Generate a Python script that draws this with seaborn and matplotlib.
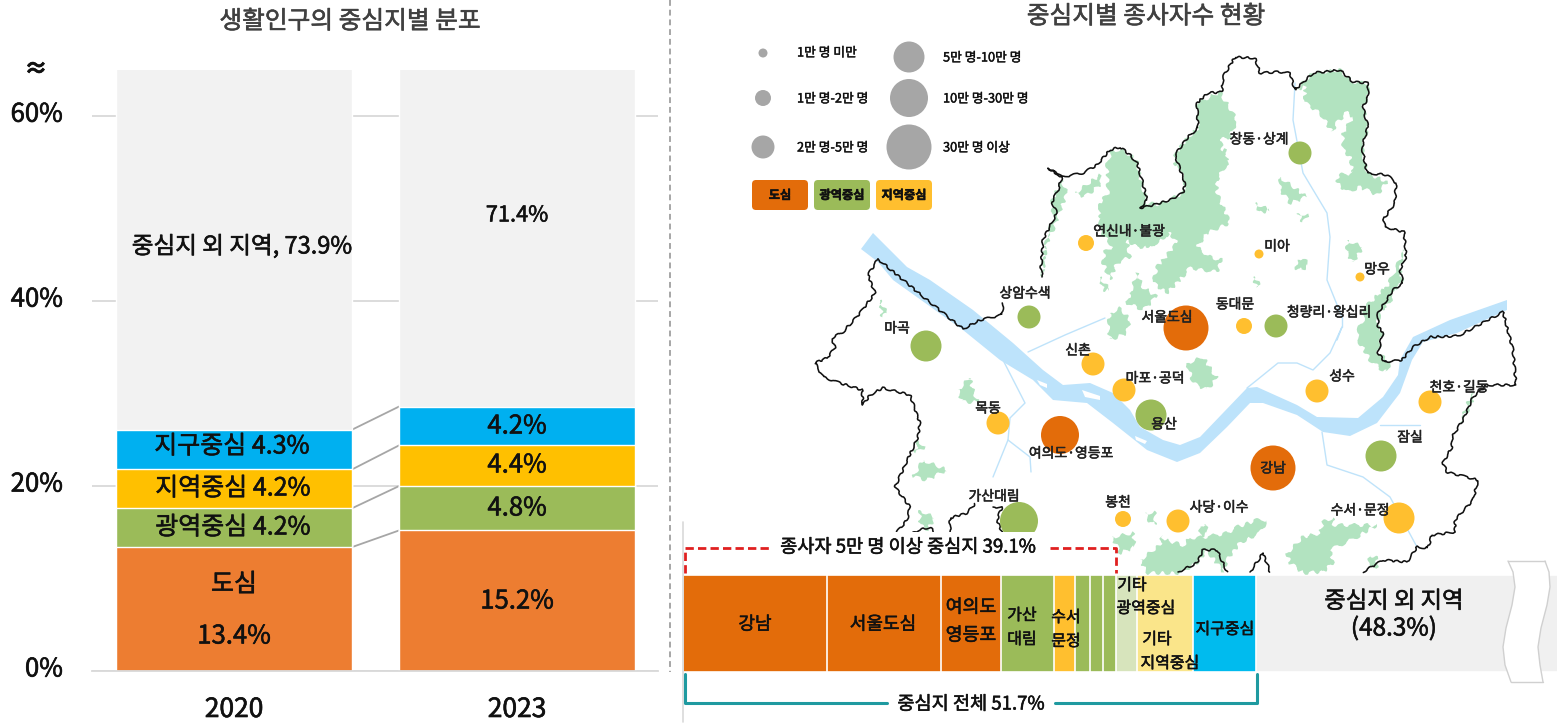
import numpy as np
import pandas as pd
import seaborn as sns
import matplotlib
matplotlib.use("Agg")
import matplotlib.pyplot as plt
import matplotlib.patheffects as pe
from matplotlib.patches import Rectangle, FancyBboxPatch
from matplotlib.transforms import ScaledTranslation

# left chart values
years = ['2020', '2023']
dosim = [13.4, 15.2]
gwangyeok = [4.2, 4.8]
jiyeok = [4.2, 4.4]
jigu = [4.3, 4.2]
outside = [73.9, 71.4]
y_ticks = [0, 20, 40, 60]

# bottom strip values (share of workers, %)
strip_names = ['강남', '서울도심', '여의도영등포', '가산대림', '수서문정', '광역1', '광역2', '광역3',
               '기타광역중심', '기타지역중심', '지구중심', '중심지 외 지역']
strip_vals = [13.0, 10.3, 5.4, 4.8, 1.9, 1.3, 1.2, 1.2, 1.9, 5.0, 5.7, 48.3]
strip_cols = ['#E36C0A', '#E36C0A', '#E36C0A', '#9BBB59', '#FFBF2F', '#9BBB59', '#9BBB59', '#9BBB59',
              '#D7E4BC', '#FAE58A', '#00BBEE', '#F0F0F0']

# centres on the map
bub_names = ['창동·상계', '연신내·불광', '미아', '망우', '상암수색', '서울도심', '동대문', '청량리·왕십리',
             '마곡', '신촌', '마포·공덕', '성수', '천호·길동', '목동', '용산', '여의도·영등포',
             '잠실', '강남', '가산대림', '봉천', '사당·이수', '수서·문정']
bub_x = [1300, 1086, 1259, 1360, 1029, 1186, 1244, 1276, 926, 1093, 1124, 1317, 1430, 998, 1151, 1060,
         1381, 1273, 1019, 1123, 1178, 1399]
bub_y = [153, 243, 254, 277, 317, 328, 326, 326, 346, 364, 390, 391, 402, 423, 415, 435,
         456, 468, 521, 519, 521, 518]
bub_kind = ['광역', '지역', '지역', '지역', '광역', '도심', '지역', '광역',
            '광역', '지역', '지역', '지역', '지역', '지역', '광역', '도심',
            '광역', '도심', '광역', '지역', '지역', '지역']
bub_class = [2, 1, 0, 0, 2, 5, 1, 2, 3, 2, 2, 2, 2, 2, 3, 4, 3, 5, 4, 1, 2, 3]

legend_labels = ['1만 명 미만', '1만 명-2만 명', '2만 명-5만 명', '5만 명-10만 명', '10만 명-30만 명', '30만 명 이상']
legend_x = [763, 763, 763, 909, 909, 909]
legend_y = [53, 98, 147, 57, 98, 147]

# map outlines, in picture pixels
border_river = [(878, 259), (927, 300), (963, 329), (980, 320), (1002, 315), (1003, 303)]
border_main = [(1042, 277), (1041, 267), (1043, 240), (1050, 226), (1057, 213), (1052, 202), (1058, 190), (1062, 177),
               (1048, 168), (1062, 177), (1083, 173), (1097, 165), (1110, 150), (1120, 147), (1130, 155), (1137, 163),
               (1142, 180), (1147, 200), (1140, 208), (1153, 205), (1170, 200), (1183, 193), (1185, 183), (1175, 155),
               (1188, 137), (1198, 128), (1197, 103), (1208, 93), (1222, 92), (1223, 77), (1235, 57), (1255, 58),
               (1260, 73), (1277, 72), (1290, 73), (1295, 90), (1313, 73), (1340, 70), (1353, 82), (1368, 83),
               (1368, 97), (1363, 107), (1368, 127), (1362, 147), (1367, 173), (1387, 175), (1396, 183), (1395, 203),
               (1383, 220), (1385, 227), (1404, 232), (1406, 257), (1400, 270), (1403, 283), (1393, 290), (1378, 313),
               (1378, 327), (1383, 332), (1378, 353), (1385, 362), (1402, 360), (1413, 347), (1430, 337), (1458, 336),
               (1503, 312), (1507, 327), (1513, 350), (1516, 385), (1487, 385), (1473, 397), (1463, 420), (1452, 437),
               (1452, 447), (1443, 463), (1447, 472), (1478, 480), (1473, 500), (1455, 520), (1455, 532), (1432, 535),
               (1428, 548), (1417, 547), (1407, 562), (1383, 560), (1363, 572)]
border_west = [(878, 259), (868, 275), (875, 293), (860, 313), (843, 332), (832, 338), (835, 348), (827, 358), (815, 363),
               (823, 377), (837, 382), (862, 390), (863, 405), (870, 395), (883, 388), (910, 395), (920, 423), (918, 437),
               (895, 487), (910, 507), (907, 520), (897, 532)]
border_south = [[(913, 532), (930, 527), (934, 532)],
                [(950, 532), (950, 518), (967, 513), (975, 504)],
                [(993, 507), (1002, 507), (997, 520), (1002, 532)],
                [(1178, 572), (1197, 563), (1203, 550), (1217, 550), (1227, 572)],
                [(1250, 572), (1257, 562), (1263, 553), (1270, 572)]]
river = [(873, 233), (893, 253), (907, 267), (930, 280), (973, 310), (1013, 343), (1043, 370), (1063, 385), (1090, 383),
         (1113, 393), (1130, 410), (1140, 427), (1163, 440), (1180, 445), (1200, 437), (1223, 413), (1247, 388), (1257, 387),
         (1297, 405), (1317, 417), (1358, 418), (1383, 397), (1398, 375), (1400, 360), (1413, 337), (1450, 320), (1507, 300),
         (1507, 310), (1457, 333), (1423, 342), (1412, 360), (1400, 393), (1377, 423), (1350, 436), (1323, 432), (1297, 415),
         (1263, 403), (1250, 403), (1227, 427), (1200, 453), (1177, 462), (1147, 450), (1113, 423), (1087, 403), (1053, 400),
         (1033, 380), (1000, 360), (963, 330), (893, 280), (878, 262), (861, 249)]
islands = [[(1037, 380), (1047, 384), (1047, 388), (1040, 385)],
           [(1082, 390), (1100, 396), (1100, 400), (1085, 397)],
           [(1135, 436), (1147, 441), (1145, 444), (1136, 440)]]
streams = [[(1247, 388), (1257, 380), (1278, 363), (1297, 363), (1313, 370), (1330, 353), (1342, 327), (1337, 340)],
           [(1342, 317), (1327, 280), (1330, 237), (1327, 213), (1303, 173), (1293, 120), (1295, 83)],
           [(1342, 317), (1342, 327)],
           [(1003, 360), (1025, 403), (1010, 418), (1008, 440), (993, 477)],
           [(1008, 440), (1030, 457), (1031, 472)],
           [(1322, 432), (1327, 465), (1363, 477), (1390, 497), (1417, 547)],
           [(1380, 425), (1420, 425)],
           [(1028, 352), (1065, 335), (1105, 318)]]
greens = [[(1112, 150), (1122, 150), (1137, 160), (1140, 177), (1147, 202), (1140, 209), (1163, 203), (1183, 193), (1185, 183),
           (1175, 153), (1227, 150), (1227, 163), (1217, 180), (1217, 193), (1230, 223), (1207, 233), (1197, 247), (1210, 257),
           (1222, 260), (1217, 272), (1190, 268), (1177, 283), (1167, 293), (1153, 283), (1157, 267), (1177, 243), (1170, 233),
           (1150, 247), (1137, 247), (1127, 240), (1130, 257), (1117, 263), (1110, 280), (1103, 263), (1105, 250), (1113, 247),
           (1100, 230), (1100, 203), (1108, 193), (1107, 163)],
          [(1100, 203), (1147, 203), (1172, 206), (1170, 233), (1150, 247), (1127, 240), (1113, 247), (1100, 230)],
          [(1198, 128), (1197, 103), (1220, 92), (1237, 120), (1230, 137), (1220, 140), (1227, 165), (1175, 165), (1175, 155), (1188, 137)],
          [(1062, 180), (1067, 193), (1053, 230), (1047, 243), (1042, 277), (1045, 247), (1053, 217), (1052, 200)],
          [(1075, 193), (1100, 175), (1102, 183), (1085, 197)],
          [(1130, 293), (1137, 273), (1143, 287), (1157, 297), (1143, 310), (1127, 303)],
          [(1110, 313), (1120, 308), (1130, 320), (1127, 333), (1110, 340), (1108, 325)],
          [(1100, 277), (1110, 290), (1103, 290)],
          [(1295, 90), (1313, 73), (1340, 70), (1353, 82), (1368, 83), (1368, 97), (1363, 107), (1368, 127), (1362, 147), (1367, 173),
           (1387, 182), (1377, 195), (1360, 187), (1347, 192), (1337, 183), (1338, 175), (1353, 173), (1350, 157), (1343, 150), (1343, 133),
           (1353, 117), (1347, 112), (1337, 123), (1332, 132), (1320, 113), (1305, 103), (1305, 87)],
          [(1140, 560), (1160, 545), (1162, 535), (1165, 540), (1183, 545), (1190, 538), (1205, 537), (1227, 533), (1237, 527), (1257, 520),
           (1267, 520), (1260, 533), (1240, 543), (1227, 560), (1223, 572), (1207, 550), (1197, 563), (1180, 573), (1147, 573)],
          [(1287, 553), (1303, 537), (1320, 533), (1323, 522), (1333, 517), (1333, 525), (1377, 525), (1357, 537), (1330, 550), (1333, 563),
           (1323, 572), (1303, 573), (1290, 563)],
          [(1367, 570), (1370, 555), (1377, 558), (1377, 567)],
          [(1112, 537), (1133, 533), (1135, 547), (1120, 553)],
          [(1145, 513), (1155, 512), (1155, 525), (1148, 520)],
          [(1200, 527), (1205, 523), (1208, 533), (1200, 537)],
          [(1395, 290), (1390, 303), (1378, 313), (1378, 327), (1383, 332), (1378, 353), (1390, 362), (1387, 372), (1382, 370), (1370, 360),
           (1358, 340), (1357, 332), (1363, 320), (1365, 307), (1383, 290)],
          [(1404, 250), (1400, 270), (1403, 283), (1393, 290), (1378, 320), (1365, 315), (1385, 290), (1393, 275)],
          [(1460, 423), (1470, 397), (1475, 393), (1470, 407)],
          [(958, 390), (970, 377), (972, 387), (978, 402), (962, 402)],
          [(923, 460), (947, 470), (927, 480), (913, 477)],
          [(918, 440), (925, 447), (915, 453)],
          [(920, 510), (935, 518), (927, 530), (920, 525)],
          [(880, 300), (887, 313), (882, 317)],
          [(1280, 177), (1307, 197), (1290, 203), (1280, 190)],
          [(1255, 203), (1270, 210), (1260, 213)],
          [(1298, 213), (1308, 215), (1303, 223)],
          [(1297, 260), (1303, 257), (1309, 265), (1302, 270), (1295, 268)],
          [(1347, 240), (1363, 247), (1353, 263), (1347, 253)],
          [(1253, 277), (1260, 280), (1257, 288)],
          [(1187, 363), (1203, 357), (1217, 378), (1207, 390), (1193, 383)]]

W, H = 1559, 728
sns.set_theme(style='white')
plt.rcParams['font.family'] = ['Noto Sans CJK KR', 'DejaVu Sans']
plt.rcParams['font.weight'] = 'medium'
fig = plt.figure(figsize=(W / 100, H / 100), dpi=100, facecolor='white')
thick = [pe.withStroke(linewidth=0.45, foreground='#111111')]

def px_axes(l, t, r, b, z):
    return fig.add_axes([l / W, 1 - b / H, (r - l) / W, (b - t) / H], zorder=z)

# map
mp = px_axes(0, 0, W, H, 0)
mp.set_xlim(0, W)
mp.set_ylim(H, 0)
mp.axis('off')
for g in greens:
    for patch in mp.fill(*zip(*g), color='#B2E3C0', lw=0, zorder=1):
        patch.set_sketch_params(scale=2, length=14, randomness=3)
for s in streams:
    mp.plot(*zip(*s), color='#BFE3FA', lw=1.0, zorder=1.5)
mp.fill(*zip(*river), color='#BDE3FB', lw=0, zorder=2)
for isl in islands:
    mp.fill(*zip(*isl), color='white', lw=0, zorder=2.1)
for seg in [border_river, border_main, border_west] + border_south:
    for line in mp.plot(*zip(*seg), color='#111111', lw=1.15, zorder=2.5):
        line.set_sketch_params(scale=1, length=12, randomness=3)

px_d = np.array([9, 16, 23, 31, 38, 45])
map_df = pd.DataFrame({'x': bub_x, 'y': bub_y, 'kind': bub_kind, 'cls': bub_class})
sns.scatterplot(data=map_df, x='x', y='y', hue='kind', palette={'도심': '#E36C0A', '광역': '#9BBB59', '지역': '#FFBF2F'},
                s=(px_d[map_df['cls']] * 0.72) ** 2, linewidth=0, legend=False, ax=mp, zorder=3)
sns.scatterplot(x=legend_x, y=legend_y, color='#A6A6A6', s=(px_d * 0.72) ** 2, linewidth=0, legend=False, ax=mp, zorder=3)
mp.set_xlim(0, W)
mp.set_ylim(H, 0)
mp.axis('off')
mp.add_patch(Rectangle((684, 532), 424, 43, color='white', lw=0, zorder=4))

# stacked bars, drawn tallest first
ax = px_axes(92, 70, 658, 671, 1)
ax.patch.set_alpha(0)
segments = [dosim, gwangyeok, jiyeok, jigu, outside]
seg_cols = ['#ED7D31', '#9BBB59', '#FFC000', '#00B0F0', '#F2F2F2']
cum = np.cumsum(segments, axis=0)
bar_w = 0.834
for top, c in zip(cum[::-1], seg_cols[::-1]):
    sns.barplot(x=years, y=top, order=years, color=c, saturation=1, width=bar_w, ax=ax, zorder=2)
for lvl in cum[:-1]:
    ax.plot([bar_w / 2, 1 - bar_w / 2], lvl, color='#A6A6A6', lw=1.3, zorder=1.5)
ax.set_xlim(-0.5018, 1.498)
ax.set_ylim(0, 65)
ax.set_yticks(y_ticks)
ax.set_yticklabels([f'{t}%' for t in y_ticks], fontsize=18.5, color='#111111')
ax.tick_params(axis='y', length=0, pad=21)
ax.tick_params(axis='x', length=0, pad=18, labelsize=19, labelcolor='#111111')
for t in ax.get_yticklabels():
    t.set_transform(t.get_transform() + ScaledTranslation(0, 0.045, fig.dpi_scale_trans))
    t.set_path_effects(thick)
for t in ax.get_xticklabels():
    t.set_path_effects(thick)
ax.yaxis.grid(True, color='#D9D9D9', lw=1.3)
ax.xaxis.grid(False)
ax.set_axisbelow(True)
for side in ['top', 'left', 'right']:
    ax.spines[side].set_visible(False)
ax.spines['bottom'].set_color('#D9D9D9')
ax.spines['bottom'].set_linewidth(1.3)

# strip along the bottom of the map, truncated on the right
st = px_axes(683, 575, 1557, 672, 2)
st.patch.set_alpha(0)
strip_cum = np.cumsum(strip_vals)
for right, c in zip(strip_cum[::-1], strip_cols[::-1]):
    sns.barplot(x=[right], y=['전체'], orient='h', color=c, saturation=1, width=1.0, edgecolor='white', linewidth=1.2, ax=st)
st.set_xlim(0, 874 / 11.08)
st.set_ylim(0.5, -0.5)
st.axis('off')

# everything on top, in picture pixels
ov = px_axes(0, 0, W, H, 3)
ov.patch.set_alpha(0)
ov.set_xlim(0, W)
ov.set_ylim(H, 0)
ov.axis('off')

def label(x, y, s, size, color='#111111', **kw):
    ov.text(x, y + 1.5, s, fontsize=size, color=color, ha='center', va='center',
            path_effects=[pe.withStroke(linewidth=0.4, foreground=color)], **kw)

label(350, 20, '생활인구의 중심지별 분포', 17.8, '#404040')
label(1146, 15, '중심지별 종사자수 현황', 17.8, '#404040')
label(36, 68, '≈', 17, fontweight='bold')
label(242, 245, '중심지 외 지역, 73.9%', 17)
label(232, 445, '지구중심 4.3%', 18)
label(233, 487, '지역중심 4.2%', 18)
label(233, 526, '광역중심 4.2%', 18)
label(234, 583, '도심', 18)
label(234, 635, '13.4%', 18.5)
label(517, 214, '71.4%', 15.7)
label(517, 425, '4.2%', 18.5)
label(517, 464, '4.4%', 18.5)
label(517, 507, '4.8%', 18.5)
label(517, 600, '15.2%', 18.5)

ov.plot([670, 670], [0, 672], color='#A6A6A6', lw=1.4, ls=(0, (3, 2)))
ov.plot([683, 683], [522, 722], color='#D9D9D9', lw=1.2)

# map labels
lab_x = [1259, 1129, 1277, 1377, 1025, 1167, 1235, 1329, 897, 1078, 1155, 1342, 1459, 988, 1164, 1071, 1410, 1273, 994, 1118, 1219, 1360]
lab_y = [138, 230, 245, 268, 292, 316, 303, 311, 327, 349, 377, 375, 386, 407, 423, 452, 436, 467, 495, 501, 506, 509]
for x, y, n in zip(lab_x, lab_y, bub_names):
    label(x, y, n, 10, '#222222')

for i, t in enumerate(legend_labels):
    ov.text(797 if i < 3 else 943, legend_y[i] + 1 - (1 if i == 0 else 0), t, fontsize=9.2, color='#111111', ha='left', va='center',
            path_effects=[pe.withStroke(linewidth=0.3, foreground='#111111')])
for x0, c, t in zip([752, 814, 876], ['#E36C0A', '#9BBB59', '#FFBF2F'], ['도심', '광역중심', '지역중심']):
    ov.add_patch(FancyBboxPatch((x0 + 3, 183), 50, 24, boxstyle='round,pad=3,rounding_size=4', fc=c, ec='none'))
    label(x0 + 28, 194, t, 8.8, fontweight='bold')

# brackets on the strip
ov.plot([685, 685, 770], [573, 548, 548], color='#E02020', lw=2, ls=(0, (3, 1.5)))
ov.plot([1050, 1116, 1116], [548, 548, 573], color='#E02020', lw=2, ls=(0, (3, 1.5)))
label(908, 546, '종사자 5만 명 이상 중심지 39.1%', 13.4)
ov.plot([685, 685, 887], [674, 703, 703], color='#1F9AA0', lw=2.2)
ov.plot([1055, 1257, 1257], [703, 703, 674], color='#1F9AA0', lw=2.2)
label(971, 703, '중심지 전체 51.7%', 13.4)

# strip labels
label(755, 623, '강남', 13)
label(883, 623, '서울도심', 13)
label(971, 606, '여의도', 13.2)
label(971, 634, '영등포', 13.2)
label(1022, 614, '가산', 11.5)
label(1022, 638, '대림', 11.5)
label(1066, 616, '수서', 11.5)
label(1066, 640, '문정', 11.5)
label(1132, 584, '기타', 11.5)
label(1146, 607, '광역중심', 11.5)
label(1157, 638, '기타', 11.5)
label(1170, 662, '지역중심', 11.5)
label(1225, 628, '지구중심', 11.5)
label(1394, 600, '중심지 외 지역', 16.8)
label(1394, 627, '(48.3%)', 17.5)

# axis break on the grey part
wave_l = [(1508, 561), (1513, 572), (1515, 587), (1512, 605), (1506, 628), (1503, 647), (1505, 665), (1511, 682)]
wave_r = [(1545, 561), (1549, 572), (1550, 587), (1547, 605), (1541, 628), (1538, 647), (1540, 665), (1543, 682)]
ov.fill(*zip(*(wave_l + wave_r[::-1])), fc='white', ec='none')
ov.plot(*zip(*wave_l), color='#D0D0D0', lw=1)
ov.plot(*zip(*wave_r), color='#D0D0D0', lw=1)
ov.plot([1508, 1545], [561, 561], color='#D0D0D0', lw=1)
ov.plot([1511, 1543], [682, 682], color='#D0D0D0', lw=1)

fig.savefig('out.png', dpi=100)
